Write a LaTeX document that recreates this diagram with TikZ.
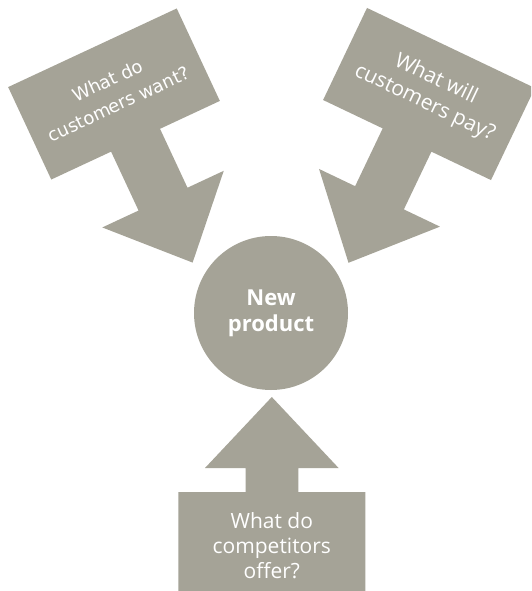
\documentclass[tikz,border=0pt]{standalone}
\usepackage{fontspec}
\setmainfont{Open Sans}
\newfontfamily\dvs{DejaVu Sans}
\definecolor{ag}{RGB}{165,163,151}
\begin{document}
\begin{tikzpicture}[x=1pt,y=-1pt,
  shapefill/.style={fill=ag,draw=none},
  lbl/.style={text=white,align=center,inner sep=0pt,font=\fontsize{21}{25}\selectfont}]
\clip (0,0) rectangle (531,591);
\fill[white] (0,0) rectangle (531,591);
% top-left arrow
\begin{scope}[shift={(114,94)},rotate=25,transform shape]
  \path[shapefill] (-93,-51) -- (93,-51) -- (93,51) -- (27,51) -- (27,116) -- (67,116)
    -- (0,186) -- (-67,116) -- (-27,116) -- (-27,51) -- (-93,51) -- cycle;
  \node[lbl,font=\dvs\fontsize{18}{26}\selectfont] (q1) at (0,-2) {What do\\customers want?};
\end{scope}
% top-right arrow
\begin{scope}[shift={(429,94)},rotate=-25.5,transform shape]
  \path[shapefill] (-93,-51) -- (93,-51) -- (93,51) -- (27,51) -- (27,115) -- (67,115)
    -- (0,187) -- (-67,115) -- (-27,115) -- (-27,51) -- (-93,51) -- cycle;
  \node[lbl,font=\fontsize{21}{26}\selectfont] (q2) at (0,-3) {What will\\customers pay?};
\end{scope}
% bottom arrow
\path[shapefill] (178.3,492) -- (245.5,492) -- (245.5,468) -- (205,468) -- (271.8,397)
  -- (338.6,468) -- (298.3,468) -- (298.3,492) -- (365.3,492) -- (365.3,600) -- (178.3,600) -- cycle;
\node[lbl] (q3) at (271.8,546) {What do\\competitors\\offer?};
% centre circle
\node[circle,fill=ag,minimum size=154pt,inner sep=0pt,text=white,align=center,
  font=\bfseries\fontsize{22}{26}\selectfont] (np) at (271,313) {New\\product};
\end{tikzpicture}
\end{document}
